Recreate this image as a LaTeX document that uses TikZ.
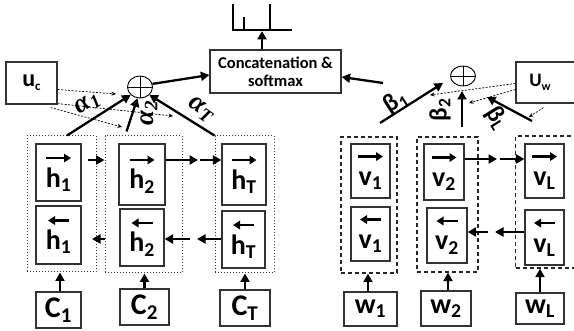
\documentclass[tikz,border=0pt]{standalone}
\usepackage{fontspec}
\setmainfont{Carlito}
\newfontfamily\greekfont{Liberation Serif}
\usetikzlibrary{arrows.meta,calc,shapes.geometric}

\newcommand\fwd[2]{\tikz[baseline]\draw[draw=black,solid,line width=2.3pt,-{Triangle[length=7pt,width=8.5pt]}] (0pt,0pt)--(25pt,0pt);\\#1\textsubscript{#2}}
\newcommand\bwd[2]{\tikz[baseline]\draw[draw=black,solid,line width=2.3pt,-{Triangle[length=7pt,width=8.5pt]}] (21pt,0pt)--(0pt,0pt);\\#1\textsubscript{#2}}
\newcommand\smallsub[2]{\raisebox{-0.18em}{\fontsize{#1}{#1}\selectfont #2}}

\tikzset{
  box/.style={draw=black!80, line width=1.2pt, inner sep=0pt, align=center,
    font=\fontsize{28}{29}\selectfont\bfseries},
  inbox/.style={box, font=\fontsize{30}{30}\selectfont\bfseries},
  grpdot/.style={draw=black!80, dotted, line width=1pt, inner sep=0pt},
  grpdash/.style={draw=black!85, dash pattern=on 4pt off 3pt, line width=1.3pt, inner sep=0pt},
  arr/.style={line width=2.3pt, -{Triangle[length=8.5pt,width=9pt]}},
  darr/.style={line width=0.7pt, dash pattern=on 2pt off 1.5pt, -{Stealth[length=4.5pt,width=4pt]}},
  opl/.style={ellipse, draw=black, line width=0.9pt, minimum width=25pt, minimum height=22pt, inner sep=0pt,
    path picture={\draw[line width=0.9pt] (path picture bounding box.north) -- (path picture bounding box.south)
      (path picture bounding box.west) -- (path picture bounding box.east);}},
  alab/.style={font=\greekfont\bfseries\itshape\fontsize{27}{27}\selectfont, inner sep=0pt},
  blab/.style={font=\bfseries\fontsize{25}{25}\selectfont, inner sep=0pt},
  outline/.style={line width=2pt}
}

\begin{document}
\begin{tikzpicture}[x=1pt,y=-1pt]
\useasboundingbox (0,0) rectangle (574,331);
\clip (0,0) rectangle (574,331);

% ---------- top part ----------
\node[box, minimum width=131pt, minimum height=43pt, font=\bfseries\fontsize{16.5}{18}\selectfont] (concat) at (275.5,71.5) {Concatenation \&\\softmax};
\draw[outline] (233,4) -- (233,30) -- (292,30);
\draw[outline] (244,17) -- (244,30);
\draw[outline] (270,4) -- (270,30);
\coordinate (outb) at (262,31);
\draw[arr] ([xshift=-13.5pt]concat.north) -- (outb);

% ---------- left side ----------
\node[box, minimum width=51pt, minimum height=42pt, font=\bfseries\fontsize{24}{24}\selectfont] (uc) at (31.5,83) {u\smallsub{13}{c}};
\node[opl] (opL) at (140,87) {};

\node[grpdot, minimum width=69pt, minimum height=136pt] (g1) at (61.5,204) {};
\node[grpdot, minimum width=77pt, minimum height=137pt] (g2) at (143.5,204.5) {};
\node[grpdot, minimum width=59pt, minimum height=137pt] (g3) at (244.5,204.5) {};

\node[box, minimum width=45pt, minimum height=57pt] (h1f) at (58.5,172.5) {\fwd{h}{1}};
\node[box, minimum width=45pt, minimum height=58pt] (h1b) at (58.5,235) {\bwd{h}{1}};
\node[box, minimum width=46pt, minimum height=61pt] (h2f) at (142,174.5) {\fwd{h}{2}};
\node[box, minimum width=44pt, minimum height=57pt] (h2b) at (142,237.5) {\bwd{h}{2}};
\node[box, minimum width=44pt, minimum height=61pt] (hTf) at (244,174.5) {\fwd{h}{T}};
\node[box, minimum width=43pt, minimum height=57pt] (hTb) at (243.5,239.5) {\bwd{h}{T}};

\node[inbox, minimum width=45pt, minimum height=36pt] (C1) at (58.5,310) {C\textsubscript{1}};
\node[inbox, minimum width=49pt, minimum height=36pt] (C2) at (144.5,307) {C\textsubscript{2}};
\node[inbox, minimum width=50pt, minimum height=36pt] (CT) at (245,308) {C\textsubscript{T}};

\draw[arr] ([xshift=1.5pt]C1.north) -- ([xshift=1.5pt]C1.north |- g1.south);
\draw[arr] (C2.north) -- (C2.north |- g2.south);
\draw[arr] (CT.north) -- (CT.north |- g3.south);

% recurrent arrows (left)
\coordinate (f1s) at (88,160);
\coordinate (f2m) at (198,160);
\coordinate (f2n) at (200,160);
\coordinate (b1e) at (92,239);
\coordinate (b2m) at (197,239);
\coordinate (b2n) at (190,239);
\draw[arr] (f1s) -- (g2.west |- f1s);
\draw[arr] (h2f.east |- f2m) -- (f2m);
\draw[arr] (f2n) -- (hTf.west |- f2n);
\draw[arr] (g2.west |- b1e) -- (b1e);
\draw[arr] (hTb.west |- b2m) -- (b2m);
\draw[arr] (b2n) -- (h2b.east |- b2n);

% attention arrows (left)
\draw[arr] ([xshift=5.5pt]g1.north) -- (opL.-140);
\draw[arr] ($(g2.north)+(-17,-4)$) -- (opL.-103);
\draw[arr] (g3.north west) -- (opL.-40);
\draw[arr] (opL.14) -- ([yshift=-3.5pt]concat.west);

\node[alab, rotate=32] (al1) at (88,104) {α\textsubscript{1}};
\node[alab, rotate=90] (al2) at (149,113) {α\textsubscript{2}};
\node[alab, rotate=-35] (alT) at (201,110) {α\textsubscript{T}};

\coordinate (d1) at (116,94);
\coordinate (d2) at (173,116);
\coordinate (d3) at (122,127);
\draw[darr] ([yshift=-6.5pt]uc.east) -- (d1);
\draw[darr] ([yshift=1pt]uc.south east) -- (d2);
\draw[darr] ($(uc.south east)+(-7,3)$) -- (d3);

% ---------- right side ----------
\node[box, minimum width=62pt, minimum height=41pt, font=\bfseries\fontsize{19}{19}\selectfont] (Uw) at (547,82.5) {\hspace*{-14pt}U\smallsub{12}{w}};
\node[opl, minimum height=20pt] (opR) at (463,76) {};

\node[grpdash, minimum width=56pt, minimum height=136pt] (gv1) at (369,205) {};
\node[grpdash, minimum width=61pt, minimum height=135pt] (gv2) at (447.5,204.5) {};
\node[grpdash, minimum width=70pt, minimum height=132pt] (gv3) at (550.5,202) {};

\node[box, minimum width=39pt, minimum height=54pt] (v1f) at (370.5,171) {\fwd{v}{1}};
\node[box, minimum width=39pt, minimum height=54pt] (v1b) at (370.5,234) {\bwd{v}{1}};
\node[box, minimum width=40pt, minimum height=56pt] (v2f) at (444,172) {\fwd{v}{2}};
\node[box, minimum width=40pt, minimum height=55pt] (v2b) at (447,235.5) {\bwd{v}{2}};
\node[box, minimum width=39pt, minimum height=54pt] (vLf) at (544.5,171) {\fwd{v}{L}};
\node[box, minimum width=39pt, minimum height=55pt] (vLb) at (544.5,237.5) {\bwd{v}{L}};

\node[box, minimum width=53pt, minimum height=34pt] (w1) at (370.5,309) {w\textsubscript{1}};
\node[box, minimum width=50pt, minimum height=35pt] (w2) at (446,308.5) {w\textsubscript{2}};
\node[box, minimum width=48pt, minimum height=31pt] (wL) at (540,308.5) {w\textsubscript{L}};

\draw[arr] ([xshift=-2.5pt]w1.north) -- ([xshift=-2.5pt]w1.north |- gv1.south);
\draw[arr] ([xshift=2pt]w2.north) -- ([xshift=2pt]w2.north |- gv2.south);
\draw[arr] (wL.north) -- (wL.north |- gv3.south);

% recurrent arrows (right)
\coordinate (vf2m) at (497,159);
\coordinate (vf2n) at (500,159);
\coordinate (vb2m) at (495,232);
\coordinate (vb2n) at (488,232);
\draw[arr] (v2f.east |- vf2m) -- (vf2m);
\draw[arr] (vf2n) -- (vLf.west |- vf2n);
\draw[arr] (vLb.west |- vb2m) -- (vb2m);
\draw[arr] (vb2n) -- (v2b.east |- vb2n);

% attention arrows (right)
\coordinate (rs) at (383,83);
\draw[arr] (rs) -- ([yshift=-5.5pt]concat.east);
\coordinate (bt1s) at (380,123);
\coordinate (bt1e) at (443,83);
\coordinate (bt2s) at (462,127);
\coordinate (bt2e) at (462,91);
\coordinate (btLs) at (532,121);
\coordinate (btLe) at (487,97);
\draw[arr] (bt1s) -- (bt1e);
\draw[arr] (bt2s) -- (bt2e);
\draw[arr] (btLs) -- (btLe);

\node[blab, rotate=33] (be1) at (396,102) {β\textsubscript{1}};
\node[blab, rotate=90] (be2) at (440,110) {β\textsubscript{2}};
\node[blab, rotate=-58] (beL) at (497,118) {β\textsubscript{L}};

\coordinate (e1) at (430,95);
\coordinate (e2) at (469,103);
\coordinate (e3) at (529,117);
\draw[darr] ([yshift=-1pt]Uw.west) -- (e1);
\draw[darr] ([yshift=-7pt]Uw.west) -- (e2);
\draw[darr] ($(Uw.south west)+(28,4)$) -- (e3);
\end{tikzpicture}
\end{document}
